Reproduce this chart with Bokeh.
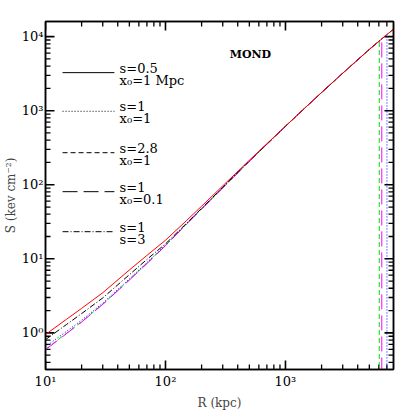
import numpy as np
from bokeh.plotting import figure
from bokeh.models import LogAxis, Range1d, LogTicker, Label
from bokeh.core.properties import value
from bokeh.embed import file_html
from bokeh.resources import INLINE

# ---------------- data ----------------
R_main = [10, 15, 20, 30, 50, 70, 100, 150, 200, 300, 500, 700, 1000, 1500, 2000, 3000, 5000]

R_red = R_main + [7000, 7950]
S_red = [0.95, 1.53, 2.14, 3.48, 7.06, 11.1, 17.8, 32.9, 51.3, 96.4, 214, 358, 617,
         1143, 1758, 3206, 6714, 10640, 12590]

R_black = R_main + [7000, 7950]
S_black = [0.81, 1.30, 1.82, 2.96, 6.1, 9.8, 15.9, 30.2, 48, 92, 210, 355, 615,
           1143, 1758, 3206, 6714, 10640, 12590]

R_green = R_main + [6050, 6050]
S_green = [0.60, 0.99, 1.41, 2.44, 5.2, 8.7, 15.1, 29.7, 47, 91, 208, 352, 617,
           1143, 1758, 3206, 6714, 8770, 0.01]

R_magenta = R_main + [6350, 6350]
S_magenta = [0.59, 0.98, 1.40, 2.42, 5.15, 8.6, 15.0, 29.5, 46.8, 90.5, 207, 351, 616,
             1143, 1758, 3206, 6714, 9330, 0.01]

R_blue = R_main + [7010, 7010]
S_blue = [0.65, 1.05, 1.48, 2.52, 5.35, 8.9, 15.3, 29.9, 47.3, 91.5, 208, 352, 617,
          1143, 1758, 3206, 6714, 10660, 0.01]

legend_line1 = ["s=0.5", "s=1", "s=2.8", "s=1", "s=1"]
legend_line2 = ["x\u2080=1  Mpc", "x\u2080=1", "x\u2080=1", "x\u2080=0.1", "s=3"]

x_ticks = [10, 100, 1000]
x_tick_labels = ["10\u00b9", "10\u00b2", "10\u00b3"]
y_ticks = [1, 10, 100, 1000, 10000]
y_tick_labels = ["10\u2070", "10\u00b9", "10\u00b2", "10\u00b3", "10\u2074"]

# ---------------- layout / style ----------------
X_RANGE = (10, 7950)
Y_RANGE = (0.32, 16000)
FONT = "DejaVu Serif"
FRAME = 348

p = figure(frame_width=FRAME, frame_height=FRAME, x_axis_type="log", y_axis_type="log",
           x_range=Range1d(*X_RANGE), y_range=Range1d(*Y_RANGE),
           output_backend="svg", toolbar_location=None,
           min_border_left=0, min_border_right=8, min_border_top=21, min_border_bottom=0)
p.grid.visible = False
p.outline_line_color = "black"
p.outline_line_width = 1.5
p.background_fill_color = None
p.border_fill_color = "white"

p.xaxis.axis_label = "R (kpc)"
p.yaxis.axis_label = "S (kev cm\u207b\u00b2)"

def style_axis(ax, show_labels):
    ax.ticker = LogTicker(num_minor_ticks=10)
    ax.major_tick_in = 0
    ax.major_tick_out = 0
    ax.minor_tick_in = 0
    ax.minor_tick_out = 0
    ax.major_tick_line_color = None
    ax.minor_tick_line_color = None
    ax.axis_line_color = "black"
    ax.axis_line_width = 1.5
    ax.major_label_text_font = FONT
    ax.axis_label_text_font = FONT
    ax.axis_label_text_font_style = "normal"
    ax.axis_label_text_font_size = "12px"
    if show_labels:
        ax.major_label_text_font_size = "13px"
        ax.major_label_text_color = "black"
        ax.major_label_standoff = 4
    else:
        ax.major_label_text_font_size = "1px"
        ax.major_label_text_alpha = 0
        ax.major_label_standoff = 0

style_axis(p.xaxis[0], True)
style_axis(p.yaxis[0], True)
p.xaxis[0].major_label_overrides = dict(zip(x_ticks, x_tick_labels))
p.yaxis[0].major_label_overrides = dict(zip(y_ticks, y_tick_labels))
p.xaxis[0].axis_label_standoff = 4
p.yaxis[0].axis_label_standoff = 1
p.yaxis[0].major_label_standoff = 2

top = LogAxis()
right = LogAxis()
style_axis(top, False)
style_axis(right, False)
p.add_layout(top, "above")
p.add_layout(right, "right")

# ---------------- helpers: frame fraction -> data ----------------
lx0, lx1 = np.log10(X_RANGE)
ly0, ly1 = np.log10(Y_RANGE)
def fx(f):
    return float(10 ** (lx0 + f * (lx1 - lx0)))
def fy(f):  # fraction from top of frame
    return float(10 ** (ly1 - f * (ly1 - ly0)))

# ---------------- inward ticks on all four sides ----------------
def minors(lo, hi):
    out = []
    d = 10.0 ** np.floor(np.log10(lo))
    while d < hi:
        for k in range(2, 10):
            v = float(k * d)
            if lo < v < hi:
                out.append(v)
        d *= 10
    return out

MAJ = 9 / FRAME
MIN = 5 / FRAME
for vals, L, w in ((y_ticks, MAJ, 1.6), (minors(*Y_RANGE), MIN, 1.3)):
    xs, ys = [], []
    for v in vals:
        xs += [[fx(0.0), fx(L)], [fx(1.0), fx(1 - L)]]
        ys += [[v, v], [v, v]]
    p.multi_line(xs=xs, ys=ys, line_color="black", line_width=w)
for vals, L, w in ((x_ticks, MAJ, 1.6), (minors(*X_RANGE), MIN, 1.3)):
    xs, ys = [], []
    for v in vals:
        xs += [[v, v], [v, v]]
        ys += [[fy(1.0), fy(1 - L)], [fy(0.0), fy(L)]]
    p.multi_line(xs=xs, ys=ys, line_color="black", line_width=w)

# ---------------- curves ----------------
p.line(R_green, S_green, line_color="#00dd00", line_width=1, line_dash="5 3")
p.line(R_magenta, S_magenta, line_color="#ff00ff", line_width=1, line_dash="15 6")
p.line(R_blue, S_blue, line_color="#0000ff", line_width=1, line_dash="1 2")
p.line(R_black, S_black, line_color="black", line_width=1, line_dash="6 2 1 2")
p.line(R_red, S_red, line_color="#ff0000", line_width=1)

# ---------------- legend (positions as frame fractions) ----------------
leg_dash = ["solid", "1 2", "5 3", "15 6", "6 2 1 2"]
leg_fy = [0.147, 0.258, 0.377, 0.489, 0.604]
seg_fx = (0.049, 0.198)
txt_fx = 0.213
for i, f in enumerate(leg_fy):
    p.line([fx(seg_fx[0]), fx(seg_fx[1])], [fy(f), fy(f)], line_color="black",
           line_width=1, line_dash=leg_dash[i])
    p.text([fx(txt_fx)], [fy(f - 0.013)], text=[legend_line1[i]],
           text_font=value(FONT), text_font_size="13px", text_align="left",
           text_baseline="middle", text_color="black")
    p.text([fx(txt_fx)], [fy(f + 0.022)], text=[legend_line2[i]],
           text_font=value(FONT), text_font_size="13px", text_align="left",
           text_baseline="middle", text_color="black")

p.add_layout(Label(x=fx(0.589), y=fy(0.095), text="MOND", text_font=FONT,
                   text_font_size="11px", text_font_style="bold",
                   text_align="center", text_baseline="middle", text_color="black"))

open("out.html", "w").write(file_html(p, INLINE))
